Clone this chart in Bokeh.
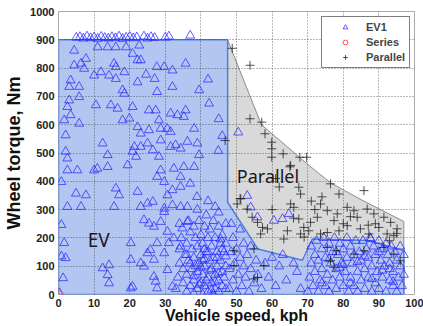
from bokeh.plotting import figure
from bokeh.models import Range1d, FixedTicker, Label, Legend, LegendItem
from bokeh.embed import file_html
from bokeh.resources import INLINE

# ---------------- data ----------------
x_ticks = list(range(0, 101, 10))
y_ticks = list(range(0, 1001, 100))

# EV operating envelope (blue) and parallel envelope (gray)
ev_env_speed = [0, 0, 47.5, 47.5, 56, 68.5, 71.3, 87, 97, 97]
ev_env_torque = [0, 900, 900, 326, 161, 121, 196, 191, 155, 0]
par_env_speed = [47.5, 57, 70, 76.4, 85, 97, 97, 47.5]
par_env_torque = [900, 600, 460, 395, 335, 258, 0, 0]

# EV1 points (triangles)
ev1_top_speed = [5, 6, 7, 8, 9, 10, 11, 12, 13, 14, 15, 16, 17, 18, 19, 20, 21, 22, 24, 25, 26, 27, 30, 31, 37]
ev1_top_torque = [908, 910, 905, 912, 906, 909, 904, 911, 907, 905, 910, 906, 912, 904, 908, 911, 906, 909, 912, 905, 910, 907, 908, 912, 915]

ev1_mid_speed = [4.4, 7.7, 6.3, 4.4, 7.2, 10, 11.9, 14.2, 16.1, 18.5, 15.6, 16.1, 11, 13.8, 16.1, 19,
                 20.8, 22.2, 23.1, 22.7, 22.2, 24.6, 27, 27.6, 29.7, 32, 35.7, 18, 18.5, 27.7, 32, 39.5,
                 42.3, 3.4, 3, 5.8, 3, 2.5, 3.4, 5.8, 10.5, 14.7, 16.6, 20.8, 18, 19.9, 25.4, 27.3, 28.2,
                 31.5, 33.4, 35.2, 35.7, 1.6, 2, 5.8, 22.2, 23.1, 25.4, 28.7, 30.5, 31.5, 38.1, 12.4,
                 13.8, 20.8, 21.8, 23.1, 25, 26.5, 28.2, 31.5, 32.9, 34.3, 36.2, 39, 39.5, 2, 2.5, 21.3,
                 28.7, 44.9, 42, 45, 46]
ev1_mid_torque = [862, 833, 816, 810, 798, 774, 786, 774, 762, 786, 816, 804, 874, 874, 874, 874,
                  851, 828, 828, 880, 750, 777, 762, 804, 804, 792, 816, 722, 710, 716, 734, 722,
                  675, 757, 734, 734, 686, 663, 634, 698, 669, 669, 657, 663, 616, 622, 651, 651, 616,
                  640, 634, 628, 651, 616, 563, 604, 592, 569, 581, 586, 586, 575, 586, 534,
                  493, 505, 487, 522, 534, 510, 487, 522, 528, 516, 540, 534, 493, 505, 481, 522,
                  545, 508, 760, 620, 560]

ev1_low_speed = [2.5, 5.3, 10, 10.9, 13.8, 19.4, 0.8, 4.9, 7.7, 2.5, 6.3, 16.1, 17, 15.6, 0.8, 1.6,
                 0.8, 2, 1.3, 12.4, 14.2, 13.8, 14.2, 20.3, 20.3, 20.8, 20.3, 22.2, 23.1, 25, 26.5,
                 24, 25.4, 26.8, 28.7, 29.7, 27.7, 25.8, 25, 23.1, 24, 26.8, 26.8, 27.3, 27.7, 32,
                 30.6, 29.7, 31, 32.4, 30.6, 34.3, 29.7, 32, 34.3, 36.2, 30.6, 34.3, 32, 29.7, 27.7,
                 28.7, 32.4, 35.2, 38.1, 34.3, 37, 38.9, 36.2, 34.8, 0.3]
ev1_low_torque = [439, 439, 439, 445, 451, 457, 398, 357, 351, 310, 310, 375, 351, 310, 246, 182,
                  135, 129, 58, 93, 104, 69, 40, 182, 123, 28, 22, 363, 310, 322, 328,
                  263, 251, 240, 257, 292, 182, 158, 146, 111, 99, 123, 63, 46, 22, 28,
                  87, 146, 182, 199, 222, 170, 304, 316, 310, 310, 351, 381, 369, 398, 416,
                  439, 445, 451, 451, 416, 392, 345, 257, 234, 5]

ev1_dense_speed = [33, 33.5, 34, 34, 34.5, 35, 35, 35.5, 36, 36, 36, 36.5, 37, 37, 37.5, 37.5, 38, 38,
                   38, 38, 38.5, 39, 39, 39, 39.5, 39.5, 40, 40, 40, 40.5, 40.5, 40.5, 41, 41, 41,
                   41.5, 41.5, 42, 42, 42, 42.5, 42.5, 43, 43, 43, 43.5, 43.5, 44, 44, 44, 44.5, 44.5,
                   45, 45, 45, 45.5, 45.5, 46, 46, 46, 46.5, 46.5, 47, 47, 47, 47, 44, 42, 39, 36.5,
                   34, 45, 40.5, 43.5, 38.5, 36, 41.5, 44.5, 42.5, 40, 46, 44, 38, 41, 43, 45.5,
                   39.5, 42, 47, 37, 45, 41]
ev1_dense_torque = [20, 60, 110, 160, 200, 40, 90, 140, 10, 70, 180, 120, 30, 220, 90, 160, 5, 50,
                    130, 240, 200, 20, 80, 170, 110, 260, 40, 140, 210, 0, 70, 180, 100, 240, 30,
                    150, 280, 60, 200, 10, 120, 230, 40, 170, 90, 260, 130, 20, 70, 200, 150, 100,
                    50, 240, 10, 180, 120, 80, 30, 210, 150, 60, 100, 20, 180, 250, 310, 330, 300, 260,
                    250, 290, 120, 0, 100, 140, 50, 130, 85, 95, 160, 45, 65, 125, 15, 195,
                    35, 150, 135, 110, 75, 160]

ev1_mid2_speed = [48, 48, 48.5, 48.5, 49, 49, 49.5, 50, 50, 50.5, 51, 51, 51.5, 52, 52, 52.5, 53,
                  53.5, 54, 54, 55, 55.5, 56, 57, 58, 59, 60, 61, 62, 64, 66, 68, 67, 63,
                  53, 54, 55.9, 60.5, 62.9, 64.7, 50.5, 87.7]
ev1_mid2_torque = [20, 90, 150, 250, 50, 200, 110, 10, 160, 70, 230, 130, 30, 100, 180, 60, 140,
                   10, 90, 170, 40, 120, 70, 20, 110, 60, 130, 30, 100, 50, 110, 20, 80, 140,
                   349, 308, 273, 261, 267, 285, 573, 196]

ev1_right_speed = [70, 70.5, 71, 71, 71.5, 72, 72, 72.5, 73, 73, 73.5, 74, 74, 74.5, 75, 75, 75.5,
                   76, 76, 76.5, 77, 77, 77.5, 78, 78, 78.5, 79, 79, 79.5, 80, 80, 80.5, 81, 81,
                   81.5, 82, 82, 82.5, 83, 83, 83.5, 84, 84, 84.5, 85, 85, 85.5, 86, 86, 86.5, 87,
                   87, 87.5, 88, 88, 88.5, 89, 89, 89.5, 90, 90, 90.5, 91, 91, 91.5, 92, 92, 92.5,
                   93, 93, 93.5, 94, 94, 94.5, 95, 95, 95.5, 96, 96, 96.5, 97, 97,
                   76, 79, 82, 84, 88, 91, 94, 78, 86, 90, 93, 74, 80]
ev1_right_torque = [10, 60, 110, 170, 30, 140, 80, 190, 10, 120, 50, 160, 90, 200, 30, 130, 70,
                    180, 10, 110, 150, 50, 200, 90, 20, 140, 60, 180, 110, 30, 160, 80, 200, 130,
                    10, 60, 170, 110, 30, 140, 190, 80, 10, 150, 50, 120, 190, 20, 90, 160, 60,
                    130, 200, 10, 100, 170, 40, 140, 80, 190, 20, 120, 60, 160, 100, 10, 180, 140,
                    50, 110, 170, 30, 80, 150, 10, 120, 60, 170, 100, 30, 140, 70,
                    125, 95, 40, 115, 55, 85, 45, 150, 135, 150, 90, 40, 105]

ev1_speed = ev1_top_speed + ev1_mid_speed + ev1_low_speed + ev1_dense_speed + ev1_mid2_speed + ev1_right_speed
ev1_torque = ev1_top_torque + ev1_mid_torque + ev1_low_torque + ev1_dense_torque + ev1_mid2_torque + ev1_right_torque

# Series points (circles)
series_speed = [0]
series_torque = [0]

# Parallel points (crosses)
par_speed = [48.8, 53.8, 53.8, 57.1, 46.8, 58, 59.9, 59.9, 63.1, 59.9, 67.8, 69.7,
             65.2, 67.5, 68, 65.2, 66.1, 68.9, 70.3, 68, 69, 76.4, 78.8, 85.8, 73.6, 75.5,
             78.3, 81.1, 83, 83.9, 86.7, 88.6, 91.4, 93.3, 95.1, 90, 92.3, 94.2, 87.2, 84.8,
             81.1, 78.8, 75.5, 73.6, 77.4, 72.7, 70.8, 51.2, 50.2, 53, 54.4, 55.9, 57.3,
             56.8, 58.7, 64.3, 67.5, 63.3, 49.3, 54.9, 54.9, 55.9, 57.7, 49.3, 75.5, 78,
             76.4, 77.4, 83, 85.8, 91.4, 94.2, 96, 65, 51, 61, 62, 74, 80, 89, 95, 82,
             87, 72, 60, 66, 93, 71]
par_torque = [870, 810, 621, 609, 544, 568, 538, 515, 497, 485, 485, 485,
              456, 379, 355, 320, 308, 237, 225, 214, 203, 391, 355, 367, 320, 296,
              285, 308, 296, 273, 302, 285, 273, 255, 232, 237, 214, 208, 214, 232,
              243, 225, 219, 214, 261, 273, 255, 338, 320, 302, 273, 255, 237,
              214, 232, 225, 267, 196, 155, 161, 55, 60, 102, 102, 166, 155,
              119, 96, 143, 155, 166, 143, 119, 451, 339, 410, 380, 345, 250, 250, 215, 275,
              245, 300, 300, 270, 190, 330]

# ---------------- figure ----------------
p = figure(width=423, height=326, output_backend="svg", toolbar_location=None,
           x_range=Range1d(0, 100), y_range=Range1d(0, 1000),
           min_border_left=58, min_border_right=9, min_border_top=11, min_border_bottom=32)
p.background_fill_color = "white"
p.border_fill_color = "white"
p.outline_line_color = "#aaaaaa"

p.patch(par_env_speed, par_env_torque, fill_color="#d9d9d9", line_color="#8c8c8c",
        line_width=1, level="image")
p.patch(ev_env_speed, ev_env_torque, fill_color="#b3c6f2", line_color="#4f7fe0",
        line_width=1.5, level="image")

for ax in (p.xaxis[0], p.yaxis[0]):
    ax.axis_line_color = None
    ax.major_tick_in = 0
    ax.major_tick_out = 0
    ax.minor_tick_in = 0
    ax.minor_tick_out = 0
    ax.major_label_text_font = "Liberation Sans"
    ax.major_label_text_font_size = "11px"
    ax.major_label_text_font_style = "bold"
    ax.major_label_text_color = "#222222"

p.xaxis.ticker = FixedTicker(ticks=x_ticks)
p.yaxis.ticker = FixedTicker(ticks=y_ticks)
p.xaxis.major_label_standoff = 4
p.yaxis.major_label_standoff = 4

p.yaxis.axis_label = "Wheel torque, Nm"
p.yaxis.axis_label_text_font = "Liberation Sans"
p.yaxis.axis_label_text_font_size = "18px"
p.yaxis.axis_label_text_font_style = "bold"
p.yaxis.axis_label_text_color = "#111111"
p.yaxis.axis_label_standoff = 3

p.xaxis.axis_label = "Vehicle speed, kph"
p.xaxis.axis_label_text_font = "Liberation Sans"
p.xaxis.axis_label_text_font_size = "16px"
p.xaxis.axis_label_text_font_style = "bold"
p.xaxis.axis_label_text_color = "#111111"
p.xaxis.axis_label_standoff = -3

p.xgrid.grid_line_color = "#333333"
p.ygrid.grid_line_color = "#333333"
p.xgrid.grid_line_dash = "1 2"
p.ygrid.grid_line_dash = "1 2"
p.xgrid.grid_line_alpha = 0.7
p.ygrid.grid_line_alpha = 0.7

r_ev = p.scatter(ev1_speed, ev1_torque, marker="triangle", size=9, fill_alpha=0,
                 line_color="#2a2aff", line_alpha=0.75, line_width=1)
r_par = p.scatter(par_speed, par_torque, marker="cross", size=9,
                  line_color="#1a1a1a", line_alpha=0.75, line_width=1)
r_ser = p.scatter(series_speed, series_torque, marker="circle", size=8, fill_alpha=0,
                  line_color="#ff4d4d", line_width=1)

p.add_layout(Label(x=8.2, y=194, text="EV", text_font="Noto Sans", text_font_size="19px",
                   text_baseline="middle", text_color="#1a1a1a"))
p.add_layout(Label(x=50.1, y=420, text="Parallel", text_font="Noto Sans", text_font_size="18px",
                   text_baseline="middle", text_color="#1a1a1a"))

legend = Legend(items=[LegendItem(label="EV1", renderers=[r_ev]),
                       LegendItem(label="Series", renderers=[r_ser]),
                       LegendItem(label="Parallel", renderers=[r_par])],
                location=(263, 226))
legend.label_text_font = "Liberation Sans"
legend.label_text_font_size = "11px"
legend.label_text_font_style = "bold"
legend.label_height = 12
legend.glyph_height = 12
legend.glyph_width = 38
legend.label_standoff = 2
legend.padding = 4
legend.spacing = 3
legend.margin = 0
legend.border_line_color = "black"
legend.border_line_width = 1
legend.background_fill_alpha = 1
p.add_layout(legend)

open("out.html", "w").write(file_html(p, INLINE))
